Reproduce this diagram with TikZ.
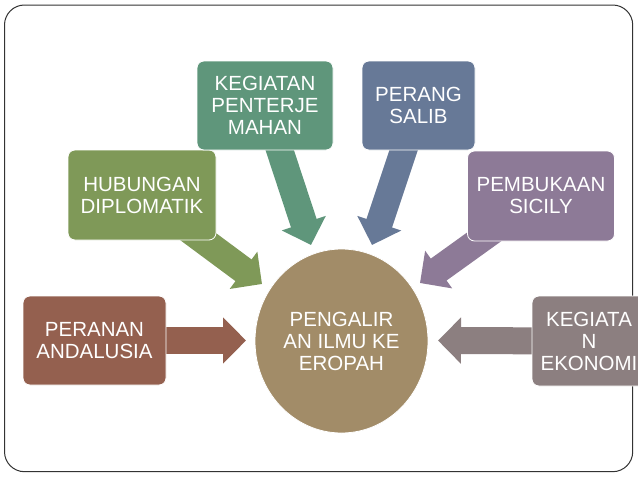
\documentclass[tikz,border=0pt]{standalone}
\usepackage{fontspec}
\setmainfont{Liberation Sans}
\usetikzlibrary{arrows.meta,shapes.geometric}
\definecolor{cPer}{RGB}{148,96,79}
\definecolor{cHub}{RGB}{127,153,88}
\definecolor{cKeg}{RGB}{95,150,123}
\definecolor{cSal}{RGB}{103,121,151}
\definecolor{cSic}{RGB}{141,122,151}
\definecolor{cEko}{RGB}{140,127,128}
\definecolor{cMid}{RGB}{162,140,104}
\tikzset{
  box/.style={rectangle, rounded corners=7pt, draw=white, line width=0.8pt, inner sep=0pt, align=center, text=white, font=\fontsize{20.5}{22}\selectfont},
  blockarrow/.style={line width=27pt, -{Triangle[width=45pt,length=23pt]}},
}
\begin{document}
\begin{tikzpicture}[x=1pt,y=-1pt]
\useasboundingbox (0,0) rectangle (638,479);
\fill[white] (0,0) rectangle (638,479);
\draw[black!80, line width=1pt, rounded corners=20pt] (4.5,5) rectangle (632.7,471.7);
% tips
\coordinate (tPer) at (246,340.5);
\coordinate (tHub) at (262,284);
\coordinate (tKeg) at (311,245);
\coordinate (tSal) at (372,245);
\coordinate (tSic) at (420,283);
\coordinate (tEko) at (438,340.5);
% node positions (centres)
\coordinate (pPer) at (94.5,340.5);
\coordinate (pHub) at (142,195);
\coordinate (pKeg) at (265,105.5);
\coordinate (pSal) at (418.5,105.5);
\coordinate (pSic) at (541,196);
\coordinate (pEko) at (589,341);
% arrows
\draw[blockarrow, cPer] (pPer) -- (tPer);
\draw[blockarrow, cHub] (pHub) -- (tHub);
\draw[blockarrow, cKeg] (pKeg) -- (tKeg);
\draw[blockarrow, cSal] (pSal) -- (tSal);
\draw[blockarrow, cSic] (pSic) -- (tSic);
\draw[blockarrow, cEko] (pEko) -- (tEko);
% boxes
\node[box, fill=cPer, minimum width=143pt, minimum height=89pt] (per) at (pPer) {PERANAN\\ANDALUSIA};
\node[box, fill=cHub, minimum width=148pt, minimum height=90pt] (hub) at (pHub) {HUBUNGAN\\DIPLOMATIK};
\node[box, fill=cKeg, minimum width=136pt, minimum height=89pt] (keg) at (pKeg) {KEGIATAN\\PENTERJE\\MAHAN};
\node[box, fill=cSal, minimum width=113pt, minimum height=89pt] (sal) at (pSal) {PERANG\\SALIB};
\node[box, fill=cSic, minimum width=147pt, minimum height=90pt] (sic) at (pSic) {PEMBUKAAN\\SICILY};
\node[box, fill=cEko, minimum width=114pt, minimum height=90pt] (eko) at (pEko) {KEGIATA\\N\\EKONOMI};
\node[ellipse, fill=cMid, draw=white, line width=0.8pt, minimum width=173pt, minimum height=184pt, inner sep=0pt, align=center, text=white, font=\fontsize{20.5}{22}\selectfont] (mid) at (341.5,341) {PENGALIR\\AN ILMU KE\\EROPAH};
\end{tikzpicture}
\end{document}
